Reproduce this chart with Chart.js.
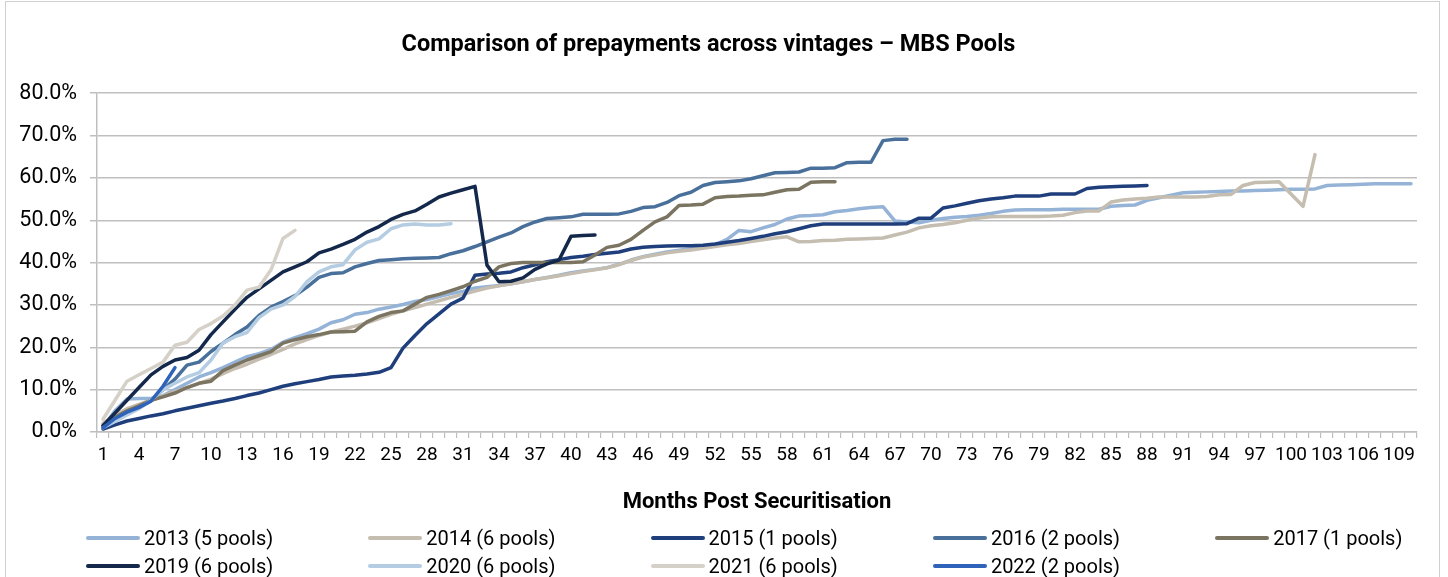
<!DOCTYPE html>
<html>
<head>
<meta charset="utf-8">
<script src="https://cdn.jsdelivr.net/npm/chart.js@4.4.1/dist/chart.umd.min.js"></script>
<style>
  html, body { margin: 0; padding: 0; background: #fff; }
  #wrap { position: relative; width: 1448px; height: 577px; overflow: hidden; }
  #frame { position: absolute; left: 5px; top: 1px; width: 1435px; height: 600px; border: 1px solid #d0d0d0; box-sizing: border-box; pointer-events: none; }
  canvas { position: absolute; left: 0; top: 0; }
  #legend { position: absolute; left: 0; top: 0; width: 1448px; height: 577px; pointer-events: none;
            font-family: Roboto, "Noto Sans", sans-serif; font-size: 20px; color: #000; }
  .li { position: absolute; height: 24px; display: flex; align-items: center; white-space: nowrap; }
  .sw { width: 54px; height: 4px; border-radius: 2px; margin-right: 4px; }
</style>
</head>
<body>
<div id="wrap">
  <canvas id="c" width="1448" height="577"></canvas>
  <div id="frame"></div>
  <div id="legend"></div>
</div>
<script>
const months = [1,2,3,4,5,6,7,8,9,10,11,12,13,14,15,16,17,18,19,20,21,22,23,24,25,26,27,28,29,30,
  31,32,33,34,35,36,37,38,39,40,41,42,43,44,45,46,47,48,49,50,51,52,53,54,55,56,57,58,59,60,
  61,62,63,64,65,66,67,68,69,70,71,72,73,74,75,76,77,78,79,80,81,82,83,84,85,86,87,88,89,90,
  91,92,93,94,95,96,97,98,99,100,101,102,103,104,105,106,107,108,109,110];
const xTickLabels = [1,4,7,10,13,16,19,22,25,28,31,34,37,40,43,46,49,52,55,58,61,64,67,70,73,76,79,82,85,88,91,94,97,100,103,106,109];
const yTickValues = [0,10,20,30,40,50,60,70,80];

const seriesNames = ['2013 (5 pools)','2014 (6 pools)','2015 (1 pools)','2016 (2 pools)','2017 (1 pools)',
  '2019 (6 pools)','2020 (6 pools)','2021 (6 pools)','2022 (2 pools)'];
const seriesColors = ['#95B3D7','#C4BDB0','#1F3E7C','#48709A','#7A7461','#13284B','#B4CDE2','#D5D1C8','#2F63BA'];

const s2013 = [1.2,5.0,7.8,7.9,7.9,8.6,10.0,11.5,13.0,14.0,
  15.2,16.5,17.8,18.5,19.5,21.2,22.3,23.2,24.3,25.8,
  26.5,27.8,28.2,29.0,29.5,30.1,30.8,31.3,32.0,32.7,
  33.2,34.0,34.3,34.6,35.0,35.5,36.0,36.5,37.0,37.6,
  38.0,38.4,38.8,39.6,40.6,41.4,42.0,42.5,42.9,43.3,
  43.6,44.2,45.5,47.6,47.3,48.2,49.0,50.3,51.0,51.1,
  51.3,52.0,52.3,52.7,53.0,53.2,49.8,49.6,49.4,50.0,
  50.4,50.7,50.9,51.2,51.6,52.1,52.4,52.5,52.5,52.5,
  52.6,52.6,52.6,52.6,53.3,53.5,53.6,54.7,55.3,55.9,
  56.5,56.6,56.7,56.8,56.9,56.9,57.0,57.1,57.2,57.3,
  57.3,57.4,58.2,58.3,58.4,58.5,58.6,58.6,58.6,58.6];
const s2014 = [2.0,4.0,5.5,6.5,7.5,8.5,9.5,10.5,11.5,12.5,
  13.8,15.0,16.0,17.2,18.3,19.5,20.8,21.8,22.8,23.6,
  24.3,25.0,25.8,26.8,27.8,28.6,29.4,30.2,31.0,31.8,
  32.5,33.3,34.0,34.5,35.0,35.5,36.0,36.4,36.9,37.4,
  37.9,38.3,38.8,39.5,40.5,41.3,41.8,42.3,42.7,43.0,
  43.4,43.8,44.2,44.5,45.0,45.4,45.8,46.1,44.9,45.0,
  45.2,45.3,45.5,45.6,45.7,45.8,46.5,47.2,48.2,48.7,
  49.0,49.4,50.0,50.5,50.8,50.9,50.9,50.9,50.9,51.0,
  51.2,51.8,52.2,52.2,54.3,54.8,55.0,55.2,55.5,55.5,
  55.5,55.5,55.6,56.0,56.1,58.2,58.9,59.0,59.1,56.2,
  53.3,65.5];
const s2015 = [0.7,1.7,2.6,3.2,3.8,4.3,5.0,5.6,6.2,6.8,
  7.3,7.9,8.6,9.2,10.0,10.8,11.4,11.9,12.4,13.0,
  13.2,13.4,13.7,14.1,15.2,19.8,22.8,25.6,27.9,30.2,
  31.6,37.0,37.3,37.5,37.8,38.8,39.5,40.2,40.7,41.2,
  41.5,41.9,42.2,42.5,43.2,43.6,43.8,43.9,44.0,44.0,
  44.1,44.4,44.8,45.2,45.7,46.2,46.8,47.3,48.0,48.7,
  49.1,49.1,49.1,49.1,49.1,49.1,49.1,49.2,50.5,50.5,
  52.9,53.4,54.0,54.6,55.0,55.3,55.7,55.7,55.7,56.2,
  56.2,56.2,57.5,57.8,57.9,58.0,58.1,58.2];
const s2016 = [1.0,3.0,4.5,6.0,7.5,10.0,12.5,15.8,16.5,19.0,
  21.0,23.0,24.8,27.5,29.5,30.8,32.2,34.2,36.5,37.4,
  37.6,39.0,39.8,40.5,40.7,40.9,41.0,41.1,41.2,42.1,
  42.8,43.8,44.9,46.0,47.0,48.5,49.6,50.4,50.6,50.8,
  51.4,51.4,51.4,51.5,52.1,53.0,53.2,54.2,55.8,56.6,
  58.2,58.9,59.1,59.3,59.8,60.5,61.2,61.3,61.4,62.3,
  62.3,62.4,63.6,63.7,63.7,68.8,69.1,69.1];
const s2017 = [1.5,3.5,5.0,6.2,7.5,8.3,9.2,10.5,11.5,12.0,
  14.5,15.8,17.0,18.0,19.0,21.0,21.8,22.5,23.0,23.6,
  23.7,23.8,26.0,27.3,28.2,28.6,30.2,31.8,32.5,33.4,
  34.3,35.6,36.5,39.0,39.8,40.0,40.0,40.0,40.0,40.0,
  40.2,41.8,43.6,44.1,45.5,47.6,49.6,50.8,53.5,53.6,
  53.8,55.3,55.6,55.7,55.9,56.0,56.6,57.2,57.3,59.0,
  59.1,59.1];
const s2019 = [1.5,4.5,7.5,10.5,13.5,15.5,17.0,17.6,19.3,23.0,
  26.0,29.0,31.8,33.8,35.8,37.8,39.0,40.2,42.3,43.2,
  44.3,45.5,47.2,48.5,50.2,51.4,52.2,53.8,55.5,56.4,
  57.2,58.0,39.4,35.5,35.6,36.4,38.4,39.7,40.6,46.2,
  46.4,46.5];
const s2020 = [1.0,2.5,4.0,5.5,7.5,10.0,11.5,13.0,14.0,17.0,
  21.0,22.5,23.5,27.0,29.0,30.0,32.0,35.5,37.8,39.0,
  39.5,43.0,44.8,45.6,48.0,48.9,49.1,48.9,48.9,49.2];
const s2021 = [3.0,7.5,12.0,13.5,15.0,16.5,20.5,21.2,24.2,25.6,27.4,30.0,33.5,34.2,38.3,45.7,47.6];
const s2022 = [1.0,3.2,4.7,5.8,7.3,10.8,15.2];

const seriesData = [s2013,s2014,s2015,s2016,s2017,s2019,s2020,s2021,s2022];

const FONT = 'Roboto, "Noto Sans", sans-serif';
const datasets = seriesData.map((d, i) => ({
  label: seriesNames[i],
  data: d,
  borderColor: seriesColors[i],
  backgroundColor: seriesColors[i],
  borderWidth: 3.5,
  pointRadius: 0,
  pointHoverRadius: 0,
  fill: false,
  tension: 0,
  borderCapStyle: 'round',
  borderJoinStyle: 'round',
  spanGaps: false,
  order: seriesData.length - i
}));

new Chart(document.getElementById('c'), {
  type: 'line',
  data: { labels: months, datasets },
  options: {
    responsive: false,
    devicePixelRatio: 1,
    animation: false,
    layout: { padding: { left: 0, right: 31, top: 0, bottom: 57 } },
    plugins: {
      legend: { display: false },
      tooltip: { enabled: false },
      title: {
        display: true,
        text: 'Comparison of prepayments across vintages – MBS Pools',
        color: '#000',
        font: { family: FONT, size: 23.5, weight: 'bold' },
        padding: { top: 31, bottom: 34 }
      }
    },
    scales: {
      x: {
        type: 'category',
        offset: true,
        grid: { offset: true, drawOnChartArea: false, drawTicks: true, tickLength: 6, color: '#bfbfbf', lineWidth: 1.2 },
        border: { display: true, color: '#bfbfbf', width: 1.5 },
        ticks: {
          autoSkip: false, maxRotation: 0, minRotation: 0, padding: 5.6,
          color: '#000', font: { family: FONT, size: 19 },
          callback: function(val, idx) { const m = months[idx]; return xTickLabels.includes(m) ? String(m) : ''; }
        },
        title: { display: true, text: 'Months Post Securitisation', color: '#000',
                 font: { family: FONT, size: 22, weight: 'bold' }, padding: { top: 0, bottom: 4 } },
        afterFit: function(s) { s.height = 88; }
      },
      y: {
        min: 0, max: 80,
        afterBuildTicks: function(s) { s.ticks = yTickValues.map(v => ({ value: v })); },
        grid: { color: '#bfbfbf', lineWidth: 1.5, drawTicks: true, tickLength: 7 },
        border: { display: true, color: '#bfbfbf', width: 1.5 },
        ticks: { padding: 13, color: '#000', font: { family: FONT, size: 21.5 },
                 callback: v => Number(v).toFixed(1) + '%' },
        afterFit: function(s) { s.width = 97; }
      }
    }
  }
});

// HTML legend built from the series names and colours
const lg = document.getElementById('legend');
seriesNames.forEach((name, i) => {
  const row = Math.floor(i / 5), col = i % 5;
  const it = document.createElement('div');
  it.className = 'li';
  it.style.left = (86 + col * 282.3) + 'px';
  it.style.top = (537.5 + row * 28.3 - 12) + 'px';
  const sw = document.createElement('span');
  sw.className = 'sw';
  sw.style.background = seriesColors[i];
  const tx = document.createElement('span');
  tx.textContent = name;
  it.appendChild(sw); it.appendChild(tx);
  lg.appendChild(it);
});
</script>
</body>
</html>
